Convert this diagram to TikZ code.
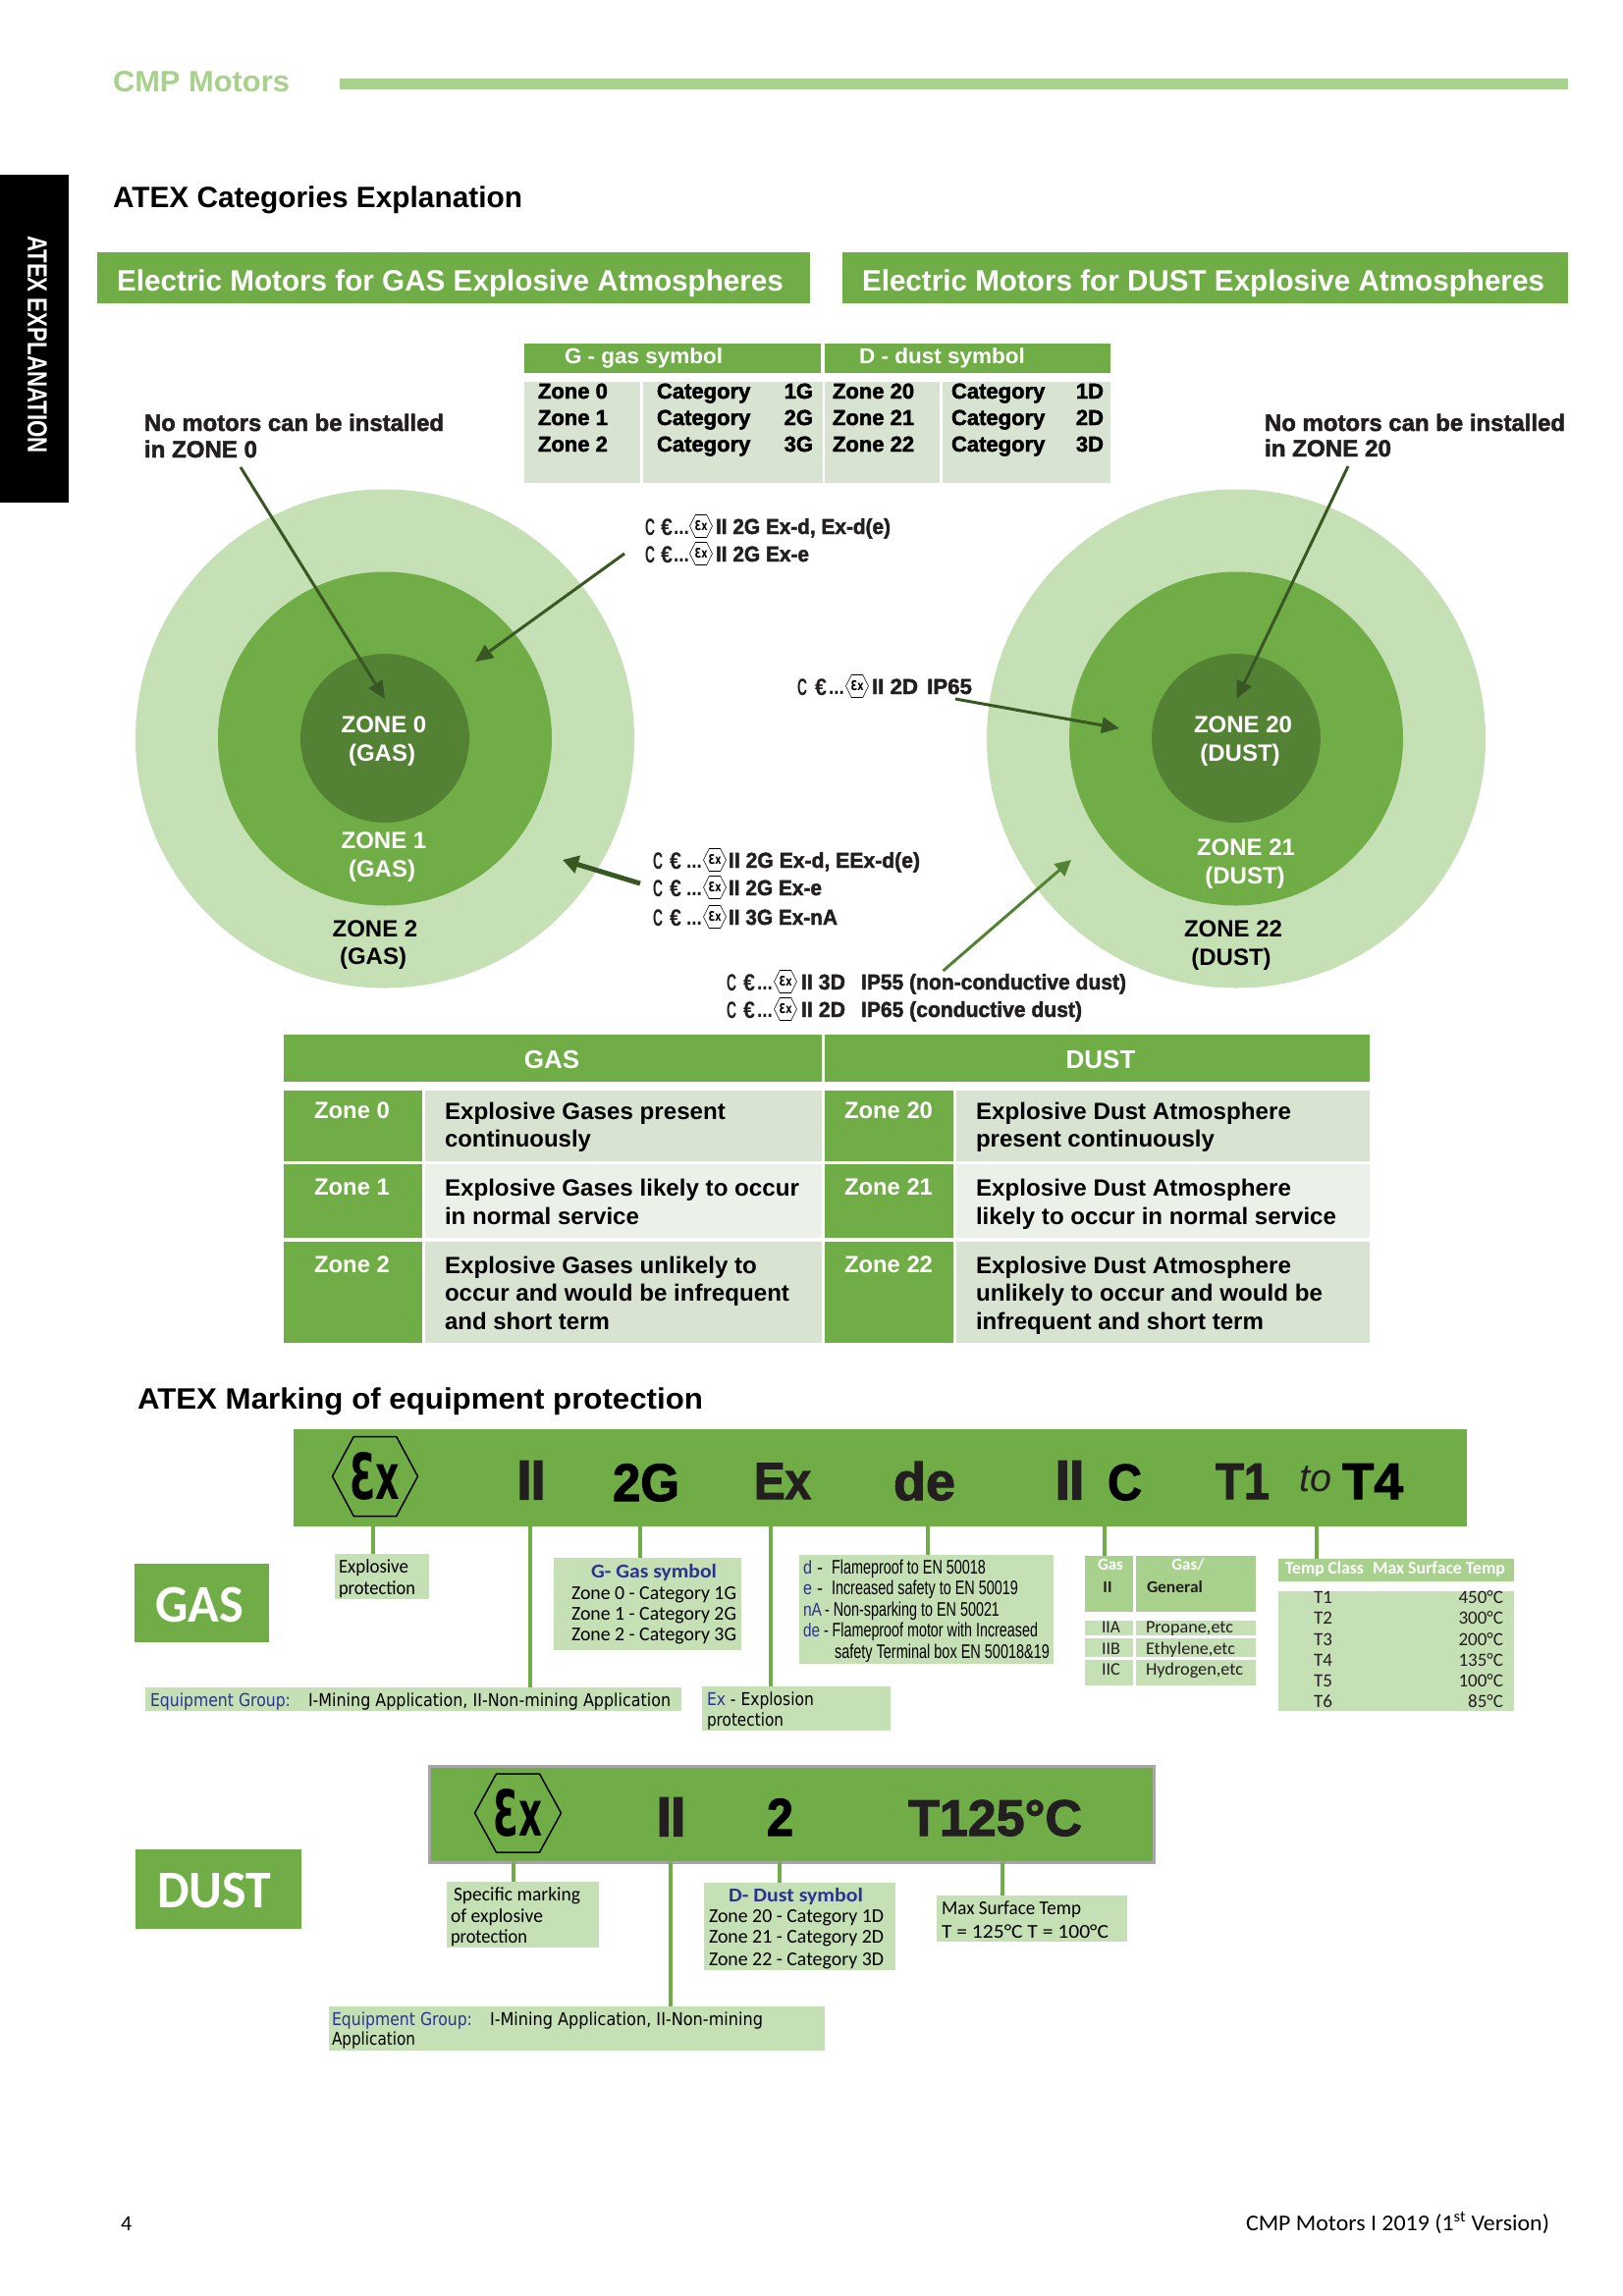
\documentclass[tikz,border=0pt]{standalone}
\usepackage{fontspec}
\usepackage{graphicx}
\usetikzlibrary{arrows.meta}
\setmainfont{Liberation Sans}
\newfontfamily\calfont{Carlito}
\newfontfamily\dvfont{DejaVu Sans}
\newfontfamily\hvfont[BoldFeatures={FakeBold=2}]{Liberation Sans}
\newfontfamily\hvxfont[BoldFeatures={FakeBold=3.5}]{Liberation Sans}
\definecolor{gl}{HTML}{C5E0B4}
\definecolor{gm}{HTML}{70AD47}
\definecolor{gd}{HTML}{548235}
\definecolor{ga}{HTML}{385723}
\definecolor{hb}{HTML}{A9D18E}
\definecolor{tb}{HTML}{D8E4D1}
\definecolor{tc}{HTML}{EBF1E9}
\definecolor{ink}{HTML}{231F20}
\definecolor{lnk}{HTML}{2E3192}
\newsavebox\fitb
\newcommand\fitw[2]{\sbox\fitb{#2}\pgfmathsetmacro\fitr{#1/\wd\fitb}\scalebox{\fitr}[1]{\usebox\fitb}}
\newcounter{tn}
\newcommand\T[4][]{\stepcounter{tn}\node[tx,#1] (t\thetn) at (#2,#3) {#4};}
\newcommand\F[5][]{\stepcounter{tn}\node[tx,#1] (t\thetn) at (#2,#3) {\fitw{#4}{#5}};}
\newcommand\B[6][]{\node[boxn,#1,minimum width={(#5-#3)*1pt},minimum height={(#6-#4)*1pt}] (#2) at (#3,#4) {};}
\newcommand\Cn[4]{\coordinate (cx#1) at (#2,0);\draw[conn] (cx#1 |- #3.south) -- (cx#1 |- #4.north);}
% hexagon Ex mark: cx cy w h textw texth linewidth
\newcommand\Hx[7]{\draw[line width=#7,draw=black,line join=round] ({#1-#3/2},{#2}) -- ({#1-#3/4},{#2-#4/2}) -- ({#1+#3/4},{#2-#4/2}) -- ({#1+#3/2},{#2}) -- ({#1+#3/4},{#2+#4/2}) -- ({#1-#3/4},{#2+#4/2}) -- cycle;
\stepcounter{tn}\node[inner sep=0,outer sep=0,text=black,anchor=center] (t\thetn) at (#1,{#2}) {\resizebox{#5pt}{#6pt}{\dvfont\bfseries Ɛx}};}
% CE line: xC xE xdots xhex xtext baseline
\newcommand\CE[7][22]{\F[bz=24,text=ink]{#2}{#7+1}{10}{C}\F[bz=24,text=ink]{#3}{#7+1}{12}{€}\F[bz=#1,text=ink]{#4}{#7}{16}{...}\Hx{#5}{#7-8}{23}{23}{13}{10}{0.6pt}}
\tikzset{
 tx/.style={anchor=base west,inner sep=0pt,outer sep=0pt},
 boxn/.style={rectangle,anchor=north west,inner sep=0pt,outer sep=0pt,draw=none},
 bz/.style={font=\bfseries\fontsize{#1}{#1}\selectfont},
 hz/.style={font=\hvfont\bfseries\fontsize{#1}{#1}\selectfont},
 hxz/.style={font=\hvxfont\bfseries\fontsize{#1}{#1}\selectfont},
 rz/.style={font=\fontsize{#1}{#1}\selectfont},
 cz/.style={font=\calfont\fontsize{#1}{#1}\selectfont},
 cbz/.style={font=\calfont\bfseries\fontsize{#1}{#1}\selectfont},
 dz/.style={font=\dvfont\fontsize{#1}{#1}\selectfont},
 conn/.style={draw=gm,line width=4pt},
 arr/.style={draw=ga,line width=3pt,-{Triangle[length=18pt,width=16pt]}},
 disc/.style={circle,inner sep=0pt,outer sep=0pt,draw=none},
}
\begin{document}
\begin{tikzpicture}[x=1pt,y=-1pt]
\useasboundingbox (0,0) rectangle (1653,2339);
\fill[white] (0,0) rectangle (1653,2339);
% page head
\F[bz=30,text=hb]{115}{94}{180}{CMP Motors}
\B[fill=hb]{topbar}{346}{80}{1597}{91}
\B[fill=black]{tab}{0}{178}{70}{512}
\stepcounter{tn}\node[rotate=-90,inner sep=0,outer sep=0,text=white,bz=28] (t\thetn) at (38,351) {\fitw{222}{ATEX EXPLANATION}};
\F[bz=30,text=black]{115}{211}{417}{ATEX Categories Explanation}
\B[fill=gm]{hgas}{99}{257}{825}{309}
\B[fill=gm]{hdust}{858}{257}{1597}{309}
\F[bz=30,text=white]{119}{296}{679}{Electric Motors for GAS Explosive Atmospheres}
\F[bz=30,text=white]{878}{296}{695}{Electric Motors for DUST Explosive Atmospheres}
% symbol table
\B[fill=gm]{sg}{534}{350}{836}{380}
\B[fill=gm]{sd}{840}{350}{1131}{380}
\B[fill=tb]{s1}{534}{389}{652}{492}
\B[fill=tb]{s2}{655}{389}{838}{492}
\B[fill=tb]{s3}{840}{389}{957}{492}
\B[fill=tb]{s4}{960}{389}{1131}{492}
\F[bz=22,text=white]{575}{370}{161}{G - gas symbol}
\F[bz=22,text=white]{875}{370}{169}{D - dust symbol}
\foreach \yy/\zz/\cc/\vv in {406/0/1G/1D,433/1/2G/2D,460/2/3G/3D}{
 \T[hz=22,text=black]{548}{\yy}{Zone \zz}
 \T[hz=22,text=black]{669}{\yy}{Category}
 \T[hz=22,text=black,anchor=base east]{828}{\yy}{\cc}
 \T[hz=22,text=black]{848}{\yy}{Zone 2\zz}
 \T[hz=22,text=black]{969}{\yy}{Category}
 \T[hz=22,text=black,anchor=base east]{1124}{\yy}{\vv}
}
% notes
\F[hz=24,text=ink]{147}{439}{305}{No motors can be installed}
\F[hz=24,text=ink]{147}{466}{115}{in ZONE 0}
\F[hz=24,text=ink]{1288}{439}{306}{No motors can be installed}
\F[hz=24,text=ink]{1288}{465}{129}{in ZONE 20}
% discs
\node[disc,fill=gl,minimum size=508pt] (g2) at (392,752.5) {};
\node[disc,fill=gm,minimum size=340pt] (g1) at (392,752.5) {};
\node[disc,fill=gd,minimum size=172pt] (g0) at (392,752) {};
\node[disc,fill=gl,minimum size=508pt] (d2) at (1259,752.5) {};
\node[disc,fill=gm,minimum size=340pt] (d1) at (1259,752.5) {};
\node[disc,fill=gd,minimum size=172pt] (d0) at (1259,752) {};
\T[bz=24,text=white,anchor=base]{391}{746}{ZONE 0}
\T[bz=24,text=white,anchor=base]{389}{775}{(GAS)}
\T[bz=24,text=white,anchor=base]{391}{864}{ZONE 1}
\T[bz=24,text=white,anchor=base]{389}{893}{(GAS)}
\T[bz=24,text=black,anchor=base]{382}{954}{ZONE 2}
\T[bz=24,text=black,anchor=base]{380}{982}{(GAS)}
\T[bz=24,text=white,anchor=base]{1266}{746}{ZONE 20}
\T[bz=24,text=white,anchor=base]{1263}{775}{(DUST)}
\T[bz=24,text=white,anchor=base]{1269}{871}{ZONE 21}
\T[bz=24,text=white,anchor=base]{1268}{900}{(DUST)}
\T[bz=24,text=black,anchor=base]{1256}{954}{ZONE 22}
\T[bz=24,text=black,anchor=base]{1254}{983}{(DUST)}
% arrows
\coordinate (a0s) at (245,476); \coordinate (a0e) at (392,712);
\coordinate (a1s) at (636,564); \coordinate (a1e) at (484,674);
\coordinate (a2s) at (652,900); \coordinate (a2e) at (573,876);
\coordinate (b0s) at (1373,475); \coordinate (b0e) at (1259.5,712);
\coordinate (b1s) at (973,712); \coordinate (b1e) at (1140,742);
\coordinate (b2s) at (960.5,989); \coordinate (b2e) at (1091,876);
\draw[arr] (a0s) -- (a0e);
\draw[arr] (a1s) -- (a1e);
\draw[arr,line width=5pt,-{Triangle[length=16pt,width=18pt]}] (a2s) -- (a2e);
\draw[arr] (b0s) -- (b0e);
\draw[arr] (b1s) -- (b1e);
\draw[arr,draw=gd,-{Triangle[length=16pt,width=16pt]}] (b2s) -- (b2e);
% CE marks
\CE{657}{673}{686}{714}{729}{544}\F[hz=22,text=ink]{729}{544}{178}{II 2G Ex-d, Ex-d(e)}
\CE{657}{673}{686}{714}{729}{572}\F[hz=22,text=ink]{729}{572}{95}{II 2G Ex-e}
\CE{665}{682}{699}{728}{742}{884}\F[hz=22,text=ink]{742}{884}{195}{II 2G Ex-d, EEx-d(e)}
\CE{665}{682}{699}{728}{742}{912}\F[hz=22,text=ink]{742}{912}{95}{II 2G Ex-e}
\CE{665}{682}{699}{728}{742}{942}\F[hz=22,text=ink]{742}{942}{111}{II 3G Ex-nA}
\CE{812}{830}{844}{873}{888}{707}\F[hz=22,text=ink]{888}{707}{102}{II 2D\hspace{9pt}IP65}
\CE{740}{757}{771}{800}{816}{1008}\F[hz=22,text=ink]{816}{1008}{45}{II 3D}\F[hz=22,text=ink]{877}{1008}{270}{IP55 (non-conductive dust)}
\CE{740}{757}{771}{800}{816}{1036}\F[hz=22,text=ink]{816}{1036}{45}{II 2D}\F[hz=22,text=ink]{877}{1036}{225}{IP65 (conductive dust)}
% zone table
\B[fill=gm]{tg}{289}{1054}{837}{1102}
\B[fill=gm]{td}{840}{1054}{1395}{1102}
\T[bz=26,text=white,anchor=base]{562}{1088}{GAS}
\T[bz=26,text=white,anchor=base]{1121}{1088}{DUST}
\foreach \aa/\bb/\nn in {1111/1183/0,1186/1261/1,1265/1368/2}{
 \B[fill=gm]{zga\nn}{289}{\aa}{430}{\bb}
 \B[fill=gm]{zda\nn}{840}{\aa}{971}{\bb}
}
\B[fill=tb]{zgb0}{433}{1111}{837}{1183}
\B[fill=tc]{zgb1}{433}{1186}{837}{1261}
\B[fill=tb]{zgb2}{433}{1265}{837}{1368}
\B[fill=tb]{zdb0}{974}{1111}{1395}{1183}
\B[fill=tc]{zdb1}{974}{1186}{1395}{1261}
\B[fill=tb]{zdb2}{974}{1265}{1395}{1368}
\F[bz=24,text=white]{320}{1139}{77}{Zone 0}
\F[bz=24,text=white]{320}{1217}{77}{Zone 1}
\F[bz=24,text=white]{320}{1296}{77}{Zone 2}
\F[bz=24,text=white]{860}{1139}{90}{Zone 20}
\F[bz=24,text=white]{860}{1217}{90}{Zone 21}
\F[bz=24,text=white]{860}{1296}{90}{Zone 22}
\F[bz=24,text=black]{453}{1140}{286}{Explosive Gases present}
\F[bz=24,text=black]{453}{1168}{149}{continuously}
\F[bz=24,text=black]{453}{1218}{361}{Explosive Gases likely to occur}
\F[bz=24,text=black]{453}{1247}{198}{in normal service}
\F[bz=24,text=black]{453}{1297}{318}{Explosive Gases unlikely to}
\F[bz=24,text=black]{453}{1325}{351}{occur and would be infrequent}
\F[bz=24,text=black]{453}{1354}{168}{and short term}
\F[bz=24,text=black]{994}{1140}{321}{Explosive Dust Atmosphere}
\F[bz=24,text=black]{994}{1168}{243}{present continuously}
\F[bz=24,text=black]{994}{1218}{321}{Explosive Dust Atmosphere}
\F[bz=24,text=black]{994}{1247}{367}{likely to occur in normal service}
\F[bz=24,text=black]{994}{1297}{321}{Explosive Dust Atmosphere}
\F[bz=24,text=black]{994}{1325}{353}{unlikely to occur and would be}
\F[bz=24,text=black]{994}{1354}{293}{infrequent and short term}
% marking title
\F[bz=30,text=black]{140}{1435}{576}{ATEX Marking of equipment protection}
% GAS marking
\B[fill=gm]{mg}{299}{1456}{1494}{1555}
\Hx{382}{1504}{87}{81}{51}{48}{1.5pt}
\F[hxz=56,text=ink]{527}{1527}{28}{II}
\F[hz=54,text=black]{624}{1529}{68}{2G}
\F[hz=53,text=ink]{768}{1527}{58}{Ex}
\F[hz=54,text=ink]{910}{1528}{63}{de}
\F[hxz=56,text=ink]{1075}{1527}{29}{II}
\F[hz=52,text=black]{1128}{1528}{35}{C}
\F[hz=52,text=ink]{1238}{1527}{55}{T1}
\F[text=ink,font=\itshape\fontsize{40}{40}\selectfont]{1323}{1519}{33}{to}
\F[hz=52,text=black]{1367}{1527}{62}{T4}
\B[fill=gm]{lgas}{137}{1593}{274}{1673}
\F[cbz=54,text=white]{158}{1652}{90}{GAS}
\B[fill=gl]{bexp}{341}{1583}{437}{1629}
\F[cz=20,text=black]{345}{1602}{71}{Explosive}
\F[cz=20,text=black]{345}{1624}{78}{protection}
\B[fill=gl]{bg}{564}{1587}{755}{1681}
\F[cbz=20,text=lnk]{602}{1607}{128}{G- Gas symbol}
\F[cz=20,text=black]{582}{1629}{168}{Zone 0 - Category 1G}
\F[cz=20,text=black]{582}{1650}{168}{Zone 1 - Category 2G}
\F[cz=20,text=black]{582}{1671}{168}{Zone 2 - Category 3G}
\B[fill=gl]{beq}{148}{1719}{694}{1743}
\F[dz=18,text=lnk]{153}{1738}{143}{Equipment Group:}
\F[dz=18,text=black]{314}{1738}{369}{I-Mining Application, II-Non-mining Application}
\B[fill=gl]{bex}{715}{1718}{907}{1763}
\F[dz=18,text=black]{720}{1737}{109}{\textcolor{lnk}{Ex} - Explosion}
\F[dz=18,text=black]{720}{1758}{78}{protection}
\B[fill=gl]{bd}{814}{1584}{1073}{1695}
\F[rz=19,text=lnk]{818}{1603}{9}{d}\F[rz=19,text=black]{832}{1603}{6}{-}
\F[rz=19,text=lnk]{818}{1624}{9}{e}\F[rz=19,text=black]{832}{1624}{6}{-}
\F[rz=19,text=lnk]{818}{1646}{19}{nA}
\F[rz=19,text=lnk]{818}{1667}{17}{de}
\F[rz=20,text=black]{847}{1603}{157}{Flameproof to EN 50018}
\F[rz=20,text=black]{847}{1624}{190}{Increased safety to EN 50019}
\F[rz=20,text=black]{840}{1646}{178}{- Non-sparking to EN 50021}
\F[rz=20,text=black]{839}{1667}{218}{- Flameproof motor with Increased}
\F[rz=20,text=black]{850}{1689}{219}{safety Terminal box EN 50018\&19}
\B[fill=hb]{gc1}{1105}{1585}{1154}{1642}
\B[fill=hb]{gc2}{1157}{1585}{1279}{1642}
\T[cbz=17,text=white,anchor=base]{1131}{1599}{Gas}
\T[cbz=17,text=ink,anchor=base]{1128}{1622}{II}
\T[cbz=17,text=white,anchor=base]{1210}{1599}{Gas/}
\F[cbz=17,text=ink]{1168}{1622}{57}{General}
\B[fill=gl]{ga1}{1105}{1651}{1154}{1666}
\B[fill=gl]{ga2}{1105}{1669}{1154}{1688}
\B[fill=gl]{ga3}{1105}{1691}{1154}{1717}
\B[fill=gl]{gb1}{1157}{1651}{1279}{1666}
\B[fill=gl]{gb2}{1157}{1669}{1279}{1688}
\B[fill=gl]{gb3}{1157}{1691}{1279}{1717}
\F[cz=18,text=ink]{1122}{1663}{19}{IIA}
\F[cz=18,text=ink]{1122}{1685}{19}{IIB}
\F[cz=18,text=ink]{1122}{1706}{19}{IIC}
\F[cz=18,text=ink]{1167}{1663}{89}{Propane,etc}
\F[cz=18,text=ink]{1167}{1685}{91}{Ethylene,etc}
\F[cz=18,text=ink]{1167}{1706}{99}{Hydrogen,etc}
\B[fill=hb]{th}{1302}{1588}{1542}{1611}
\F[cbz=18,text=white]{1309}{1603}{80}{Temp Class}
\F[cbz=18,text=white]{1398}{1603}{135}{Max Surface Temp}
\B[fill=gl]{tbd}{1302}{1621}{1542}{1743}
\foreach \yy/\tn/\vv in {1633/T1/450,1654/T2/300,1676/T3/200,1697/T4/135,1718/T5/100,1739/T6/85}{
 \T[cz=19,text=ink]{1338}{\yy}{\tn}
 \T[cz=19,text=ink,anchor=base east]{1531}{\yy}{\vv°C}
}
\Cn{a}{380}{mg}{bexp}
\Cn{b}{540}{mg}{beq}
\Cn{c}{652}{mg}{bg}
\Cn{d}{785}{mg}{bex}
\Cn{e}{945}{mg}{bd}
\Cn{f}{1125}{mg}{gc1}
\Cn{g}{1341}{mg}{th}
% DUST marking
\B[fill=gm,draw=black!35,line width=3pt]{md}{437}{1799}{1175}{1897}
\Hx{527.5}{1847}{88}{80}{50}{48}{1.5pt}
\F[hxz=56,text=ink]{669}{1870}{29}{II}
\F[hz=54,text=black]{781}{1870}{27}{2}
\F[hz=52,text=ink]{925}{1870}{177}{T125°C}
\B[fill=gm]{ldust}{138}{1884}{307}{1965}
\F[cbz=54,text=white]{160}{1943}{116}{DUST}
\B[fill=gl]{bsp}{455}{1917}{610}{1984}
\F[cz=20,text=black]{462}{1936}{129}{Specific marking}
\F[cz=20,text=black]{459}{1958}{94}{of explosive}
\F[cz=20,text=black]{459}{1979}{78}{protection}
\B[fill=gl]{bdg}{717}{1918}{912}{2007}
\F[cbz=20,text=lnk]{742}{1937}{137}{D- Dust symbol}
\F[cz=20,text=black]{722}{1958}{178}{Zone 20 - Category 1D}
\F[cz=20,text=black]{722}{1979}{178}{Zone 21 - Category 2D}
\F[cz=20,text=black]{722}{2002}{178}{Zone 22 - Category 3D}
\B[fill=gl]{bmx}{954}{1931}{1148}{1978}
\F[cz=20,text=black]{959}{1950}{142}{Max Surface Temp}
\F[cz=20,text=black]{959}{1974}{170}{T = 125°C T = 100°C}
\B[fill=gl]{beq2}{335}{2044}{840}{2089}
\F[dz=18,text=lnk]{338}{2063}{143}{Equipment Group:}
\F[dz=18,text=black]{499}{2063}{278}{I-Mining Application, II-Non-mining}
\F[dz=18,text=black]{338}{2083}{85}{Application}
\Cn{h}{523}{md}{bsp}
\Cn{i}{683}{md}{beq2}
\Cn{j}{794}{md}{bdg}
\Cn{k}{1021}{md}{bmx}
% footer
\T[cz=22,text=black]{123}{2272}{4}
\F[cz=23,text=black]{1269}{2272}{309}{CMP Motors I 2019 (1\textsuperscript{st} Version)}
\end{tikzpicture}
\end{document}
